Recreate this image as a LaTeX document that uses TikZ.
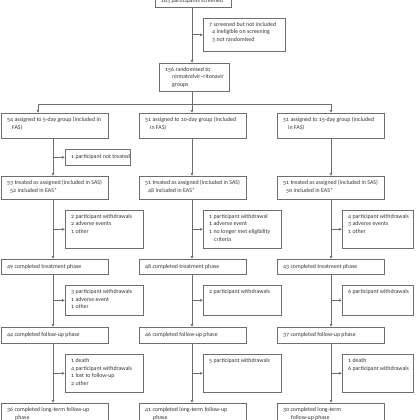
\documentclass[tikz,border=0pt]{standalone}
\usepackage{fontspec}
\setmainfont{Carlito}[Numbers=OldStyle]
\usetikzlibrary{arrows.meta}
\definecolor{lg}{HTML}{6E6E6E}
\definecolor{tg}{HTML}{333333}
\newcommand\fs{\fontsize{5.9}{7.7}\selectfont}
\tikzset{
 box/.style={draw=lg, line width=0.7pt, inner sep=0pt, anchor=north west},
 txt/.style={inner sep=0pt, align=left, font=\fs, text=tg},
 arr/.style={draw=lg, line width=0.7pt, -{Latex[length=3pt,width=3pt]}},
 ln/.style={draw=lg, line width=0.7pt}
}
\newcommand\fb[6]{%
 \node[box, minimum width={#4-#2}, minimum height={#5-#3}] (#1) at (#2,#3) {};
 \node[txt, anchor=north west] (#1-t) at ([xshift=6pt,yshift=-4pt]#1.north west) {#6};}
\newcommand\fc[6]{%
 \node[box, minimum width={#4-#2}, minimum height={#5-#3}] (#1) at (#2,#3) {};
 \node[txt, anchor=west] (#1-t) at ([xshift=6pt]#1.west) {#6};}
\begin{document}
\begin{tikzpicture}[x=1pt,y=-1pt]
\useasboundingbox (0,0) rectangle (420,420);
\clip (0,0) rectangle (420,420);
\fill[white] (0,0) rectangle (420,420);
\coordinate (k1) at (53,0);
\coordinate (k2) at (192,0);
\coordinate (k3) at (331,0);
\coordinate (h1) at (38,104);
\coordinate (h3) at (331,104);
% top
\fc{scr}{155}{-5}{231}{7}{163 participants screened}
\fb{ex0}{203}{18}{285}{51}{7 screened but not included\\\hspace*{3pt}4 ineligible on screening\\\hspace*{3pt}3 not randomised}
\fb{rand}{159}{63}{229}{91}{156 randomised to\\\hspace*{7pt}nirmatrelvir--ritonavir\\\hspace*{7pt}groups}
% row a
\fb{a1}{1}{113}{108}{138}{54 assigned to 5-day group (included in\\\hspace*{5pt}FAS)}
\fb{a2}{139}{113}{246}{138}{51 assigned to 10-day group (included\\\hspace*{5pt}in FAS)}
\fb{a3}{277}{113}{384}{138}{51 assigned to 15-day group (included\\\hspace*{5pt}in FAS)}
\fc{nt1}{65}{149}{130}{165}{1 participant not treated}
% row t
\fb{t1}{1}{176}{108}{199}{53 treated as assigned (included in SAS)\\\hspace*{3pt}52 included in EAS*}
\fb{t2}{139}{176}{246}{199}{51 treated as assigned (included in SAS)\\\hspace*{3pt}48 included in EAS*}
\fb{t3}{277}{176}{384}{199}{51 treated as assigned (included in SAS)\\\hspace*{3pt}50 included in EAS*}
% withdrawals 1
\fb{w1}{65}{210}{143}{248}{2 participant withdrawals\\2 adverse events\\1 other}
\fb{w2}{203}{210}{281}{248}{1 participant withdrawal\\1 adverse event\\1 no longer met eligibility\\\hspace*{5pt}criteria}
\fb{w3}{342}{210}{413}{248}{4 participant withdrawals\\3 adverse events\\1 other}
% treatment phase
\fc{c1}{1}{259}{108}{274}{49 completed treatment phase}
\fc{c2}{139}{259}{246}{274}{48 completed treatment phase}
\fc{c3}{277}{259}{384}{274}{43 completed treatment phase}
% withdrawals 2
\fb{v1}{65}{285}{143}{315}{3 participant withdrawals\\1 adverse event\\1 other}
\fb{v2}{203}{285}{281}{315}{2 participant withdrawals}
\fb{v3}{342}{285}{413}{315}{6 participant withdrawals}
% follow-up phase
\fc{f1}{1}{327}{108}{343}{44 completed follow-up phase}
\fc{f2}{139}{327}{246}{343}{46 completed follow-up phase}
\fc{f3}{277}{327}{384}{343}{37 completed follow-up phase}
% withdrawals 3
\fb{u1}{65}{354}{143}{392}{1 death\\4 participant withdrawals\\1 lost to follow-up\\2 other}
\fb{u2}{203}{354}{281}{392}{5 participant withdrawals}
\fb{u3}{342}{354}{413}{392}{1 death\\6 participant withdrawals}
% long-term
\fb{l1}{1}{403}{108}{430}{36 completed long-term follow-up\\\hspace*{8pt}phase}
\fb{l2}{139}{403}{246}{430}{41 completed long-term follow-up\\\hspace*{8pt}phase}
\fb{l3}{277}{403}{384}{430}{30 completed long-term\\\hspace*{8pt}follow-up phase}
% connectors top
\draw[arr] (scr.south -| k2) -- (rand.north -| k2);
\draw[arr] (ex0.west -| k2) -- (ex0.west);
\draw[ln] (rand.south -| k2) -- (h1 -| k2);
\draw[ln] (h1) -- (h3);
\draw[arr] (h1) -- (h1 |- a1.north);
\draw[arr] (h1 -| k2) -- (a2.north -| k2);
\draw[arr] (h3) -- (h3 |- a3.north);
% column 1
\draw[arr] (a1.south -| k1) -- (t1.north -| k1);
\draw[arr] (nt1.west -| k1) -- (nt1.west);
\draw[arr] (t1.south -| k1) -- (c1.north -| k1);
\draw[arr] (w1.west -| k1) -- (w1.west);
\draw[arr] (c1.south -| k1) -- (f1.north -| k1);
\draw[arr] (v1.west -| k1) -- (v1.west);
\draw[arr] (f1.south -| k1) -- (l1.north -| k1);
\draw[arr] (u1.west -| k1) -- (u1.west);
% column 2
\draw[arr] (a2.south -| k2) -- (t2.north -| k2);
\draw[arr] (t2.south -| k2) -- (c2.north -| k2);
\draw[arr] (w2.west -| k2) -- (w2.west);
\draw[arr] (c2.south -| k2) -- (f2.north -| k2);
\draw[arr] (v2.west -| k2) -- (v2.west);
\draw[arr] (f2.south -| k2) -- (l2.north -| k2);
\draw[arr] (u2.west -| k2) -- (u2.west);
% column 3
\draw[arr] (a3.south -| k3) -- (t3.north -| k3);
\draw[arr] (t3.south -| k3) -- (c3.north -| k3);
\draw[arr] (w3.west -| k3) -- (w3.west);
\draw[arr] (c3.south -| k3) -- (f3.north -| k3);
\draw[arr] (v3.west -| k3) -- (v3.west);
\draw[arr] (f3.south -| k3) -- (l3.north -| k3);
\draw[arr] (u3.west -| k3) -- (u3.west);
\end{tikzpicture}
\end{document}
